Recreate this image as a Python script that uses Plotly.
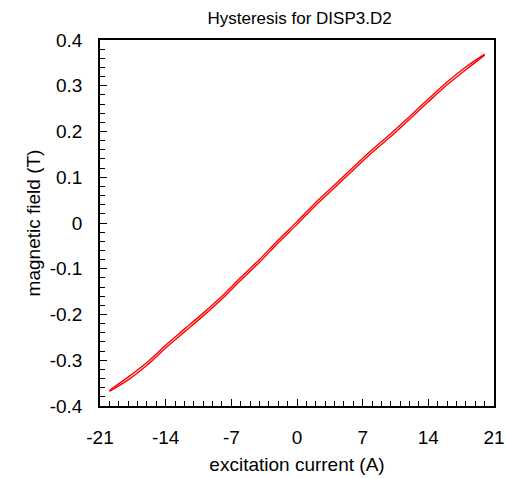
import plotly.graph_objects as go

# Excitation current (A) sampled along the loop
current = [-20, -18, -16, -14, -12, -10, -8, -6, -4, -2, 0,
           2, 4, 6, 8, 10, 12, 14, 16, 18, 20]

# Field (T) on the rising-current branch
field_rising = [-0.368, -0.343, -0.311, -0.273, -0.238, -0.203, -0.166,
                -0.125, -0.086, -0.043, -0.003, 0.039, 0.077, 0.116,
                0.154, 0.189, 0.227, 0.265, 0.302, 0.335, 0.367]

# Field (T) on the falling-current branch (same current points)
field_falling = [-0.366, -0.337, -0.305, -0.267, -0.232, -0.197, -0.160,
                 -0.119, -0.080, -0.037, 0.003, 0.045, 0.083, 0.122,
                 0.160, 0.195, 0.233, 0.271, 0.308, 0.341, 0.369]

x_ticks = [-21, -14, -7, 0, 7, 14, 21]
y_ticks = [-0.4, -0.3, -0.2, -0.1, 0, 0.1, 0.2, 0.3, 0.4]

fig = go.Figure()
# Rising branch, then falling branch back down
fig.add_trace(go.Scatter(
    x=current, y=field_rising, mode="lines",
    line=dict(color="#ff0000", width=1.4, shape="spline", smoothing=0.8),
    showlegend=False, hoverinfo="skip",
))
fig.add_trace(go.Scatter(
    x=current[::-1], y=field_falling[::-1], mode="lines",
    line=dict(color="#ff0000", width=1.4, shape="spline", smoothing=0.8),
    showlegend=False, hoverinfo="skip",
))

font = "Liberation Sans, Arial, sans-serif"

fig.update_layout(
    width=506, height=478,
    margin=dict(l=100, r=12, t=40, b=72, autoexpand=False),
    paper_bgcolor="white", plot_bgcolor="white",
    font=dict(family=font, size=19, color="black"),
    title=dict(text="Hysteresis for DISP3.D2", x=0.592, xanchor="center",
               y=0.963, yanchor="middle", font=dict(size=17, color="black")),
)

fig.update_xaxes(
    range=[-21, 21], tickvals=x_ticks, ticktext=[str(v) for v in x_ticks],
    ticks="inside", ticklen=7, tickwidth=1.2, tickcolor="black",
    minor=dict(dtick=1, ticks="inside", ticklen=5, tickwidth=1.2, tickcolor="black"),
    showline=True, linecolor="black", linewidth=1.6, mirror=True,
    showgrid=False, zeroline=False, ticklabelstandoff=13, automargin=False,
    title=dict(text="excitation current (A)", standoff=11, font=dict(size=19)),
)
fig.update_yaxes(
    range=[-0.4, 0.4], tickvals=y_ticks,
    ticktext=[("%g" % v) for v in y_ticks],
    ticks="inside", ticklen=7, tickwidth=1.2, tickcolor="black",
    minor=dict(dtick=0.02, ticks="inside", ticklen=5, tickwidth=1.2, tickcolor="black"),
    showline=True, linecolor="black", linewidth=1.6, mirror=True,
    showgrid=False, zeroline=False, ticklabelstandoff=12, automargin=False,
    title=dict(text="magnetic field (T)", standoff=4, font=dict(size=19)),
)

fig.write_html("out.html")
